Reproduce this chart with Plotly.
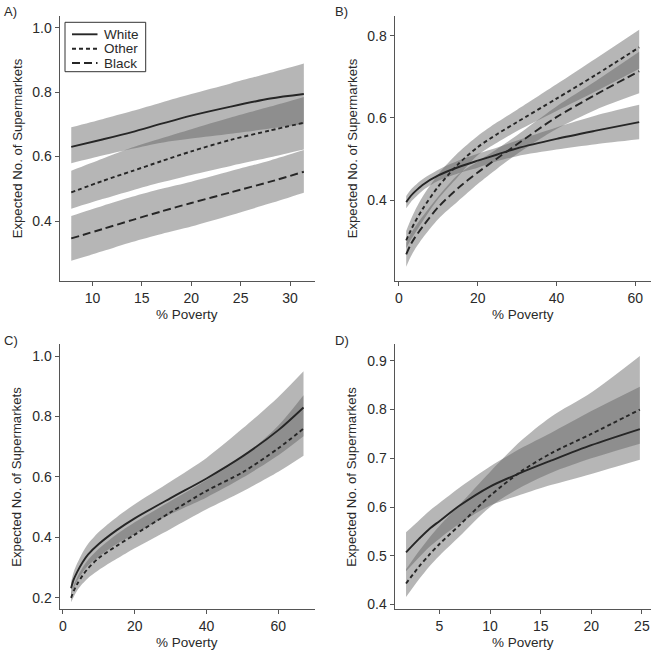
import plotly.graph_objects as go

# ---------------- data ----------------
# Panel A
xA = [7.85, 11, 14, 17, 20, 24, 28, 31.4]
whiteA = [0.630, 0.653, 0.676, 0.702, 0.727, 0.755, 0.780, 0.794]
whiteA_hi = [0.691, 0.716, 0.741, 0.768, 0.794, 0.827, 0.860, 0.889]
whiteA_lo = [0.579, 0.603, 0.624, 0.643, 0.656, 0.671, 0.687, 0.701]
otherA = [0.489, 0.524, 0.555, 0.586, 0.616, 0.652, 0.681, 0.705]
otherA_hi = [0.556, 0.593, 0.628, 0.657, 0.685, 0.721, 0.755, 0.785]
otherA_lo = [0.438, 0.468, 0.495, 0.520, 0.543, 0.571, 0.598, 0.622]
blackA = [0.346, 0.375, 0.403, 0.430, 0.456, 0.489, 0.522, 0.553]
blackA_hi = [0.416, 0.447, 0.475, 0.500, 0.522, 0.555, 0.588, 0.620]
blackA_lo = [0.277, 0.306, 0.335, 0.360, 0.383, 0.418, 0.455, 0.488]

# Panel B
xB = [1.85, 3, 4, 6, 10, 15, 20, 25, 30, 40, 50, 61]
whiteB = [0.395, 0.410, 0.420, 0.437, 0.460, 0.480, 0.496, 0.511, 0.526, 0.549, 0.569, 0.590]
whiteB_hi = [0.410, 0.425, 0.435, 0.451, 0.474, 0.496, 0.513, 0.528, 0.545, 0.577, 0.606, 0.632]
whiteB_lo = [0.380, 0.395, 0.405, 0.423, 0.447, 0.465, 0.479, 0.495, 0.507, 0.523, 0.536, 0.548]
otherB = [0.302, 0.326, 0.345, 0.378, 0.433, 0.487, 0.529, 0.561, 0.590, 0.647, 0.705, 0.772]
otherB_hi = [0.325, 0.352, 0.373, 0.408, 0.463, 0.515, 0.556, 0.590, 0.620, 0.682, 0.745, 0.815]
otherB_lo = [0.283, 0.303, 0.318, 0.348, 0.403, 0.457, 0.509, 0.540, 0.568, 0.617, 0.665, 0.720]
blackB = [0.268, 0.292, 0.308, 0.335, 0.383, 0.429, 0.467, 0.502, 0.536, 0.602, 0.657, 0.714]
blackB_hi = [0.296, 0.318, 0.333, 0.360, 0.409, 0.462, 0.494, 0.525, 0.558, 0.628, 0.690, 0.761]
blackB_lo = [0.238, 0.262, 0.279, 0.307, 0.354, 0.397, 0.439, 0.477, 0.512, 0.573, 0.620, 0.660]

# Panel C
xC = [2.3, 3, 4, 5.5, 7, 10, 15, 20, 30, 40, 50, 60, 67]
whiteC = [0.232, 0.260, 0.286, 0.318, 0.343, 0.378, 0.424, 0.463, 0.530, 0.595, 0.668, 0.755, 0.830]
whiteC_hi = [0.252, 0.285, 0.314, 0.350, 0.378, 0.418, 0.467, 0.510, 0.585, 0.663, 0.760, 0.865, 0.950]
whiteC_lo = [0.207, 0.232, 0.256, 0.284, 0.306, 0.336, 0.378, 0.411, 0.477, 0.532, 0.597, 0.672, 0.735]
otherC = [0.200, 0.222, 0.246, 0.274, 0.297, 0.332, 0.372, 0.409, 0.483, 0.554, 0.615, 0.695, 0.760]
otherC_hi = [0.215, 0.241, 0.268, 0.300, 0.325, 0.362, 0.410, 0.450, 0.520, 0.590, 0.665, 0.770, 0.870]
otherC_lo = [0.185, 0.203, 0.224, 0.247, 0.265, 0.292, 0.329, 0.364, 0.428, 0.493, 0.552, 0.617, 0.670]

# Panel D
xD = [1.7, 3, 4, 5, 7, 10, 13, 16, 20, 24.8]
whiteD = [0.507, 0.535, 0.555, 0.571, 0.603, 0.642, 0.670, 0.695, 0.727, 0.760]
whiteD_hi = [0.548, 0.573, 0.592, 0.608, 0.640, 0.683, 0.720, 0.752, 0.797, 0.847]
whiteD_lo = [0.468, 0.497, 0.518, 0.535, 0.566, 0.603, 0.625, 0.645, 0.668, 0.697]
otherD = [0.443, 0.478, 0.502, 0.524, 0.563, 0.623, 0.672, 0.710, 0.750, 0.800]
otherD_hi = [0.472, 0.510, 0.537, 0.561, 0.605, 0.672, 0.735, 0.785, 0.835, 0.910]
otherD_lo = [0.415, 0.452, 0.478, 0.500, 0.540, 0.600, 0.640, 0.670, 0.700, 0.730]

# axis ticks
xticksA = [10, 15, 20, 25, 30]
yticksA = [0.4, 0.6, 0.8, 1.0]
xticksB = [0, 20, 40, 60]
yticksB = [0.4, 0.6, 0.8]
xticksC = [0, 20, 40, 60]
yticksC = [0.2, 0.4, 0.6, 0.8, 1.0]
xticksD = [5, 10, 15, 20, 25]
yticksD = [0.4, 0.5, 0.6, 0.7, 0.8, 0.9]

groups = ["White", "Other", "Black"]
panel_labels = ["A)", "B)", "C)", "D)"]
x_title = "% Poverty"
y_title = "Expected No. of Supermarkets"

# ---------------- styling ----------------
W = H = 652
FONT = "Liberation Sans, Arial, Helvetica, sans-serif"
TXT = "#2a2a2a"
AX = "#555555"
BAND = "rgba(95,95,95,0.46)"
LINE = "#262626"
DASH = {"White": "solid", "Other": "4px,3px", "Black": "8px,4px"}


def px_x(p):
    return p / W


def px_y(p):
    return 1 - p / H


fig = go.Figure()

panels = [
    ("x", "y", xA, {"White": (whiteA, whiteA_lo, whiteA_hi),
                    "Other": (otherA, otherA_lo, otherA_hi),
                    "Black": (blackA, blackA_lo, blackA_hi)}),
    ("x2", "y2", xB, {"White": (whiteB, whiteB_lo, whiteB_hi),
                      "Other": (otherB, otherB_lo, otherB_hi),
                      "Black": (blackB, blackB_lo, blackB_hi)}),
    ("x3", "y3", xC, {"White": (whiteC, whiteC_lo, whiteC_hi),
                      "Other": (otherC, otherC_lo, otherC_hi)}),
    ("x4", "y4", xD, {"White": (whiteD, whiteD_lo, whiteD_hi),
                      "Other": (otherD, otherD_lo, otherD_hi)}),
]

for pi, (xa, ya, xs, data) in enumerate(panels):
    for g in groups:
        if g not in data:
            continue
        mean, lo, hi = data[g]
        fig.add_trace(go.Scatter(x=xs, y=lo, xaxis=xa, yaxis=ya, mode="lines",
                                 line=dict(width=0, shape="spline", smoothing=0.8),
                                 hoverinfo="skip", showlegend=False))
        fig.add_trace(go.Scatter(x=xs, y=hi, xaxis=xa, yaxis=ya, mode="lines",
                                 line=dict(width=0, shape="spline", smoothing=0.8),
                                 fill="tonexty", fillcolor=BAND,
                                 hoverinfo="skip", showlegend=False))
    for g in groups:
        if g not in data:
            continue
        mean, lo, hi = data[g]
        fig.add_trace(go.Scatter(x=xs, y=mean, xaxis=xa, yaxis=ya, mode="lines", name=g,
                                 line=dict(color=LINE, width=1.9, dash=DASH[g],
                                           shape="spline", smoothing=0.8),
                                 showlegend=False))

# geometry of the four plot areas (pixels)
left_x = (59.5, 315.0)
right_x = (394.5, 651.0)
top_y = (15.7, 281.0)
bot_y = (344.3, 609.3)

axis_common = dict(showline=True, linecolor=AX, linewidth=1, ticks="outside",
                   ticklen=4, tickcolor=AX, tickwidth=1, showgrid=False,
                   zeroline=False, mirror=False, automargin=False,
                   tickfont=dict(family=FONT, size=14, color=TXT))

specs = [
    ("xaxis", "yaxis", "x", "y", left_x, top_y, [6.66, 32.53], [0.214, 1.037], xticksA, yticksA),
    ("xaxis2", "yaxis2", "x2", "y2", right_x, top_y, [-1.12, 64.0], [0.203, 0.849], xticksB, yticksB),
    ("xaxis3", "yaxis3", "x3", "y3", left_x, bot_y, [-0.93, 70.2], [0.162, 1.039], xticksC, yticksC),
    ("xaxis4", "yaxis4", "x4", "y4", right_x, bot_y, [0.56, 25.9], [0.39, 0.934], xticksD, yticksD),
]

layout = {}
annotations = []
shapes = []
for i, (xk, yk, xr, yr, xpx, ypx, xrange_, yrange_, xt, yt) in enumerate(specs):
    layout[xk] = dict(axis_common, domain=[px_x(xpx[0]), px_x(xpx[1])], range=xrange_,
                      anchor=yr, tickvals=xt, ticktext=[str(v) for v in xt])
    layout[yk] = dict(axis_common, domain=[px_y(ypx[1]), px_y(ypx[0])], range=yrange_,
                      anchor=xr, tickvals=yt, ticktext=["%.1f" % v for v in yt])
    cx = (xpx[0] + xpx[1]) / 2
    cy = (ypx[0] + ypx[1]) / 2
    annotations.append(dict(text=x_title, x=px_x(cx), y=px_y(ypx[1] + 33), xref="paper", yref="paper",
                            showarrow=False, xanchor="center", yanchor="middle",
                            font=dict(family=FONT, size=13.5, color=TXT)))
    annotations.append(dict(text=y_title, x=px_x(xpx[0] - 42.5), y=px_y(cy), xref="paper", yref="paper",
                            showarrow=False, xanchor="center", yanchor="middle", textangle=-90,
                            font=dict(family=FONT, size=13.2, color=TXT)))
    lx = 2 if xpx[0] < 100 else 333
    annotations.append(dict(text=panel_labels[i], x=px_x(lx), y=px_y(ypx[0] - 4), xref="paper", yref="paper",
                            showarrow=False, xanchor="left", yanchor="middle",
                            font=dict(family=FONT, size=13, color=TXT)))

# legend of panel A (drawn as a boxed key)
shapes.append(dict(type="rect", xref="paper", yref="paper",
                   x0=px_x(65), x1=px_x(145.7), y0=px_y(71.7), y1=px_y(22.3),
                   line=dict(color="#333333", width=1), fillcolor="white", layer="above"))
leg_rows = [34.3, 48.7, 63.0]
for g, ry in zip(groups, leg_rows):
    shapes.append(dict(type="line", xref="paper", yref="paper",
                       x0=px_x(72), x1=px_x(97.5), y0=px_y(ry), y1=px_y(ry),
                       line=dict(color=LINE, width=1.9, dash=DASH[g]), layer="above"))
    annotations.append(dict(text=g, x=px_x(101.5), y=px_y(ry), xref="paper", yref="paper",
                            showarrow=False, xanchor="left", yanchor="middle",
                            font=dict(family=FONT, size=13.5, color=TXT)))

fig.update_layout(
    width=W, height=H,
    margin=dict(l=0, r=0, t=0, b=0, autoexpand=False),
    paper_bgcolor="white", plot_bgcolor="white",
    font=dict(family=FONT, size=13, color=TXT),
    annotations=annotations,
    shapes=shapes,
    showlegend=False,
    **layout,
)

fig.write_html("out.html", config={"displayModeBar": False},
               post_script="document.body.style.margin='0px';document.body.style.overflow='hidden';")
